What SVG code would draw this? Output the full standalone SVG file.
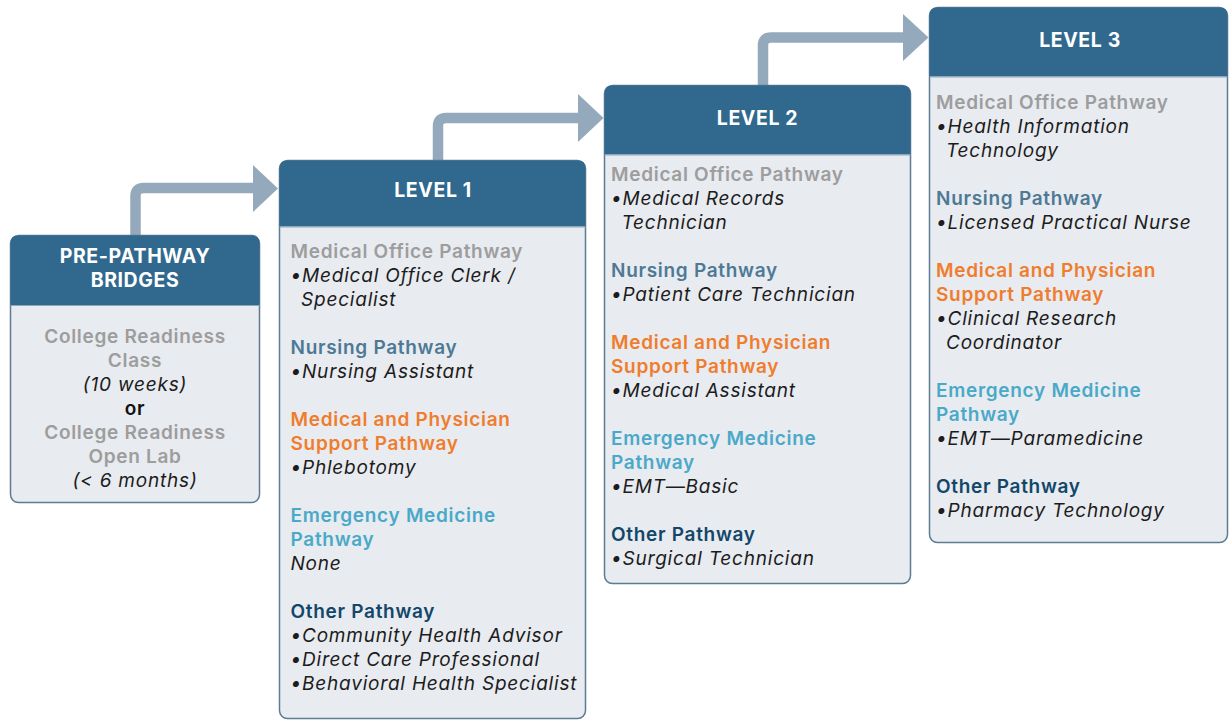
<svg xmlns="http://www.w3.org/2000/svg" width="1229" height="721" viewBox="0 0 1229 721">
  <style>
    .box { fill: #e8ebf0; stroke: #5d7b93; stroke-width: 1.5; }
    .hdr { fill: #31698e; }
    .hline { stroke: #8fa7ba; stroke-width: 1; }
    .flow { fill: none; stroke: #94a9bb; stroke-width: 10.5; }
    .head { fill: #94a9bb; }
    text { font-family: Inter, "Open Sans", "Liberation Sans", sans-serif; }
    .ttl { fill: #ffffff; font-size: 19.5px; font-weight: 700; letter-spacing: 0.6px; text-anchor: middle; }
    .sec { font-size: 19px; font-weight: 600; letter-spacing: 0.7px; }
    .item { fill: #1c1c1c; font-size: 19px; font-style: italic; letter-spacing: 0.8px; }
    .office { fill: #9d9d9d; }
    .nurse { fill: #4e7995; }
    .med { fill: #ef7d2d; }
    .emt { fill: #4aa9c8; }
    .other { fill: #12476a; }
    .ctr { text-anchor: middle; }
  </style>

  <!-- connectors: bent arrows stepping up to the next level -->
  <g id="connectors">
    <path class="flow" d="M135.5 236 V196 Q135.5 188 143.5 188 H254"/>
    <polygon class="head" points="253,165 278,188.5 253,212"/>
    <path class="flow" d="M438 161 V126 Q438 118 446 118 H579"/>
    <polygon class="head" points="578,94 603.5,118 578,142"/>
    <path class="flow" d="M763 86 V45.5 Q763 37.5 771 37.5 H904"/>
    <polygon class="head" points="903,14 928.5,37.5 903,61"/>
  </g>

  <!-- pre-pathway bridges -->
  <g id="pre-pathway">
    <rect class="box" x="10.5" y="235.5" width="249" height="267" rx="8"/>
    <path class="hdr" d="M10.5 305 V243.5 Q10.5 235.5 18.5 235.5 H251.5 Q259.5 235.5 259.5 243.5 V305 Z"/>
    <line class="hline" x1="10.5" y1="305.5" x2="259.5" y2="305.5"/>
    <text class="ttl" x="135" y="263">PRE-PATHWAY</text>
    <text class="ttl" x="135" y="287">BRIDGES</text>
    <text class="sec office ctr" x="135" y="343">College Readiness</text>
    <text class="sec office ctr" x="135" y="367">Class</text>
    <text class="item ctr" x="135" y="391">(10 weeks)</text>
    <text class="sec ctr" x="135" y="415" fill="#111111">or</text>
    <text class="sec office ctr" x="135" y="439">College Readiness</text>
    <text class="sec office ctr" x="135" y="463">Open Lab</text>
    <text class="item ctr" x="135" y="487">(&lt; 6 months)</text>
  </g>

  <!-- level 1 -->
  <g id="level-1">
    <rect class="box" x="279.5" y="160.5" width="306" height="558" rx="8"/>
    <path class="hdr" d="M279.5 226.5 V168.5 Q279.5 160.5 287.5 160.5 H577.5 Q585.5 160.5 585.5 168.5 V226.5 Z"/>
    <line class="hline" x1="279.5" y1="227" x2="585.5" y2="227"/>
    <text class="ttl" x="433" y="197">LEVEL 1</text>
    <text class="sec office" x="290.5" y="258">Medical Office Pathway</text>
    <text class="item" x="290.5" y="282">•Medical Office Clerk /</text>
    <text class="item" x="301" y="306">Specialist</text>
    <text class="sec nurse" x="290.5" y="354">Nursing Pathway</text>
    <text class="item" x="290.5" y="378">•Nursing Assistant</text>
    <text class="sec med" x="290.5" y="426">Medical and Physician</text>
    <text class="sec med" x="290.5" y="450">Support Pathway</text>
    <text class="item" x="290.5" y="474">•Phlebotomy</text>
    <text class="sec emt" x="290.5" y="522">Emergency Medicine</text>
    <text class="sec emt" x="290.5" y="546">Pathway</text>
    <text class="item" x="290.5" y="570">None</text>
    <text class="sec other" x="290.5" y="618">Other Pathway</text>
    <text class="item" x="290.5" y="642">•Community Health Advisor</text>
    <text class="item" x="290.5" y="666">•Direct Care Professional</text>
    <text class="item" x="290.5" y="690">•Behavioral Health Specialist</text>
  </g>

  <!-- level 2 -->
  <g id="level-2">
    <rect class="box" x="604.5" y="85.5" width="306" height="498" rx="8"/>
    <path class="hdr" d="M604.5 154.5 V93.5 Q604.5 85.5 612.5 85.5 H902.5 Q910.5 85.5 910.5 93.5 V154.5 Z"/>
    <line class="hline" x1="604.5" y1="155" x2="910.5" y2="155"/>
    <text class="ttl" x="757.5" y="125">LEVEL 2</text>
    <text class="sec office" x="611" y="181">Medical Office Pathway</text>
    <text class="item" x="611" y="205">•Medical Records</text>
    <text class="item" x="621.5" y="229">Technician</text>
    <text class="sec nurse" x="611" y="277">Nursing Pathway</text>
    <text class="item" x="611" y="301">•Patient Care Technician</text>
    <text class="sec med" x="611" y="349">Medical and Physician</text>
    <text class="sec med" x="611" y="373">Support Pathway</text>
    <text class="item" x="611" y="397">•Medical Assistant</text>
    <text class="sec emt" x="611" y="445">Emergency Medicine</text>
    <text class="sec emt" x="611" y="469">Pathway</text>
    <text class="item" x="611" y="493">•EMT—Basic</text>
    <text class="sec other" x="611" y="541">Other Pathway</text>
    <text class="item" x="611" y="565">•Surgical Technician</text>
  </g>

  <!-- level 3 -->
  <g id="level-3">
    <rect class="box" x="929.5" y="7.5" width="298" height="535" rx="8"/>
    <path class="hdr" d="M929.5 76.5 V15.5 Q929.5 7.5 937.5 7.5 H1219.5 Q1227.5 7.5 1227.5 15.5 V76.5 Z"/>
    <line class="hline" x1="929.5" y1="77" x2="1227.5" y2="77"/>
    <text class="ttl" x="1080" y="47">LEVEL 3</text>
    <text class="sec office" x="936" y="109">Medical Office Pathway</text>
    <text class="item" x="936" y="133">•Health Information</text>
    <text class="item" x="946" y="157">Technology</text>
    <text class="sec nurse" x="936" y="205">Nursing Pathway</text>
    <text class="item" x="936" y="229">•Licensed Practical Nurse</text>
    <text class="sec med" x="936" y="277">Medical and Physician</text>
    <text class="sec med" x="936" y="301">Support Pathway</text>
    <text class="item" x="936" y="325">•Clinical Research</text>
    <text class="item" x="946" y="349">Coordinator</text>
    <text class="sec emt" x="936" y="397">Emergency Medicine</text>
    <text class="sec emt" x="936" y="421">Pathway</text>
    <text class="item" x="936" y="445">•EMT—Paramedicine</text>
    <text class="sec other" x="936" y="493">Other Pathway</text>
    <text class="item" x="936" y="517">•Pharmacy Technology</text>
  </g>
</svg>
